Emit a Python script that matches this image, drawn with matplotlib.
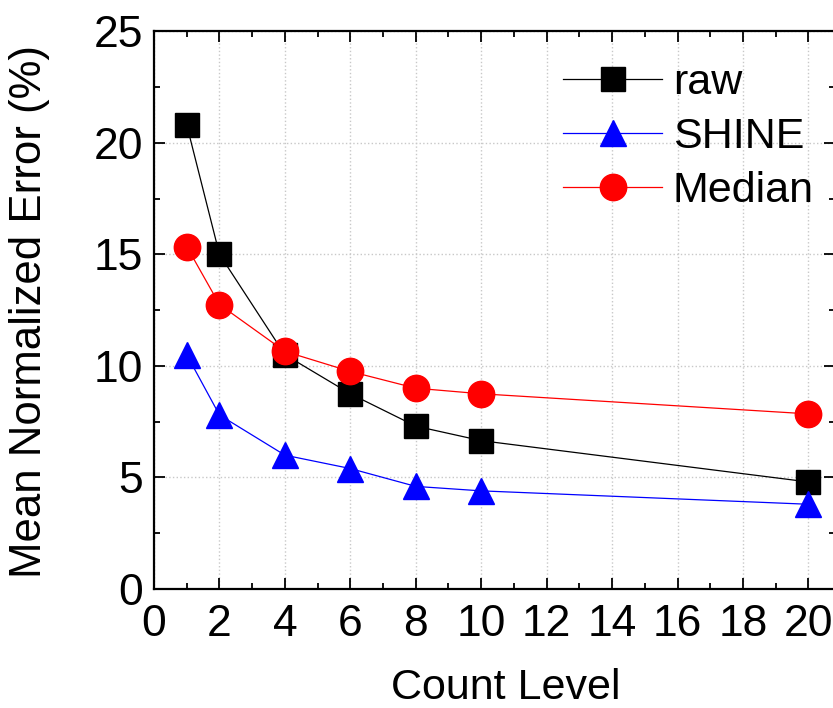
"""
Mean normalized error vs count level for raw, SHINE and Median.
Writes out.png (833x708).
"""

import matplotlib
matplotlib.use("Agg")
import matplotlib.pyplot as plt
from matplotlib.ticker import MultipleLocator

plt.rcParams["font.family"] = ["Liberation Sans", "DejaVu Sans"]

# ── Data ──────────────────────────────────────────────────────────────────────
COUNT_LEVEL = [1, 2, 4, 6, 8, 10, 20]
RAW         = [20.8, 15.0, 10.5, 8.75, 7.3, 6.65, 4.8]
SHINE       = [10.5, 7.8, 6.0, 5.4, 4.6, 4.4, 3.8]
MEDIAN      = [15.35, 12.75, 10.65, 9.75, 9.0, 8.75, 7.85]

SERIES = [
    ("raw",    RAW,    "black", "s", 17),
    ("SHINE",  SHINE,  "blue",  "^", 19),
    ("Median", MEDIAN, "red",   "o", 19),
]


def main() -> None:
    fig = plt.figure(figsize=(8.33, 7.08), dpi=100)
    ax = fig.add_axes([0.1849, 0.168, 0.817, 0.788])

    for label, vals, color, marker, ms in SERIES:
        ax.plot(COUNT_LEVEL, vals, color=color, marker=marker, markersize=ms,
                linewidth=0.9, label=label, clip_on=False, zorder=3)

    ax.set_xlim(0, 20.8)
    ax.set_ylim(0, 25)
    ax.xaxis.set_major_locator(MultipleLocator(2))
    ax.xaxis.set_minor_locator(MultipleLocator(1))
    ax.yaxis.set_major_locator(MultipleLocator(5))
    ax.yaxis.set_minor_locator(MultipleLocator(2.5))

    ax.grid(True, which="major", color="#c8c8c8", linestyle=":", linewidth=1.0)
    ax.set_axisbelow(True)

    for sp in ax.spines.values():
        sp.set_linewidth(1.6)

    ax.tick_params(which="both", direction="in", top=True, right=True,
                   width=1.3, labelsize=32)
    ax.tick_params(which="major", length=8)
    ax.tick_params(which="minor", length=4)
    ax.tick_params(axis="x", pad=11)
    ax.tick_params(axis="y", pad=8)

    fig.text(506 / 833, 1 - 688 / 708, "Count Level", fontsize=31,
             ha="center", va="center")
    fig.text(30 / 833, 1 - 311 / 708, "Mean Normalized Error (%)", fontsize=31.5,
             ha="center", va="center", rotation=90)

    ax.legend(loc="upper left", bbox_to_anchor=(0.676, 0.911),
              bbox_transform=fig.transFigure, frameon=False, fontsize=31,
              handlelength=2.3, handletextpad=0.25, labelspacing=0.33,
              borderpad=0, borderaxespad=0)

    fig.savefig("out.png", dpi=100)
    plt.close(fig)


if __name__ == "__main__":
    main()
